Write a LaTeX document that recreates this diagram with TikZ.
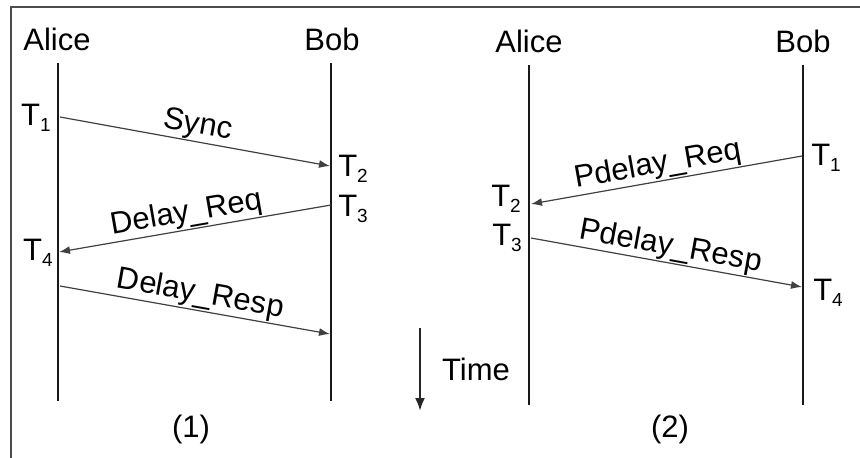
\documentclass[tikz,border=0pt]{standalone}
\usepackage{fontspec}
\setmainfont{Liberation Sans}
\usetikzlibrary{arrows.meta}

\newcommand{\tstamp}[1]{T\raisebox{-0.2em}{\fontsize{19}{19}\selectfont #1}}

\tikzset{
	lifeline/.style={line width=2.8pt, black!90},
	msg/.style={line width=1.2pt, black!75, -{Latex[length=11pt,width=8pt]}},
	lbl/.style={font=\fontsize{31}{34}\selectfont, inner sep=0pt, text=black},
	msglbl/.style={lbl, sloped, above=1pt, pos=0.5}
}

\begin{document}
\begin{tikzpicture}[x=1pt,y=-1pt]
			\useasboundingbox (0,0) rectangle (860,458);
			\draw [line width=1.8pt, black!70] (11,458) -- (11,7) -- (860,7);
			
			% (1)
			\node [lbl, anchor=base] (aliceA) at (57,50) {Alice};
			\node [lbl, anchor=base] (bobA) at (332,50) {Bob};
			\coordinate (aliceAtop) at (58,63);
			\coordinate (aliceAbot) at (58,401);
			\coordinate (bobAtop) at (331,63);
			\coordinate (bobAbot) at (331,401);
			\draw [lifeline] (aliceAtop) -- (aliceAbot);
			\draw [lifeline] (bobAtop) -- (bobAbot);
			
			\coordinate (syncS) at (60,117);
			\coordinate (syncE) at (330,166);
			\coordinate (dreqS) at (331,205);
			\coordinate (dreqE) at (59,252);
			\coordinate (drespS) at (60,286);
			\coordinate (drespE) at (330,334);
			\draw [msg] (syncS) -- node [msglbl] (sync) {Sync} (syncE);
			\draw [msg] (dreqS) -- node [msglbl, pos=0.52] (dreq) {Delay\_Req} (dreqE);
			\draw [msg] (drespS) -- node [msglbl, pos=0.51] (dresp) {Delay\_Resp} (drespE);
			
			\node [lbl] (tA1) at (36,118) {\tstamp{1}};
			\node [lbl] (tA2) at (353,169) {\tstamp{2}};
			\node [lbl] (tA3) at (353,209) {\tstamp{3}};
			\node [lbl] (tA4) at (38,253) {\tstamp{4}};
			\node [lbl] (capA) at (191,429) {(1)};
			
			% time
			\coordinate (timeS) at (420,328);
			\coordinate (timeE) at (420,411);
			\draw [line width=2.2pt, black!85, -{Latex[length=13pt,width=10pt]}] (timeS) -- (timeE);
			\node [lbl, anchor=base] (time) at (476,380) {Time};
			
			% (2)
			\node [lbl, anchor=base] (aliceB) at (529,52) {Alice};
			\node [lbl, anchor=base] (bobB) at (803,52) {Bob};
			\coordinate (aliceBtop) at (529,65);
			\coordinate (aliceBbot) at (529,405);
			\coordinate (bobBtop) at (803,65);
			\coordinate (bobBbot) at (803,405);
			\draw [lifeline] (aliceBtop) -- (aliceBbot);
			\draw [lifeline] (bobBtop) -- (bobBbot);
			
			\coordinate (preqS) at (802,156);
			\coordinate (preqE) at (531,204);
			\coordinate (prespS) at (531,238);
			\coordinate (prespE) at (802,287);
			\draw [msg] (preqS) -- node [msglbl, pos=0.52] (preq) {Pdelay\_Req} (preqE);
			\draw [msg] (prespS) -- node [msglbl, pos=0.505] (presp) {Pdelay\_Resp} (prespE);
			
			\node [lbl] (tB1) at (826,158) {\tstamp{1}};
			\node [lbl] (tB2) at (506,199) {\tstamp{2}};
			\node [lbl] (tB3) at (507,238) {\tstamp{3}};
			\node [lbl] (tB4) at (828,293) {\tstamp{4}};
			\node [lbl] (capB) at (670,429) {(2)};
			
			\end{tikzpicture}
\end{document}
